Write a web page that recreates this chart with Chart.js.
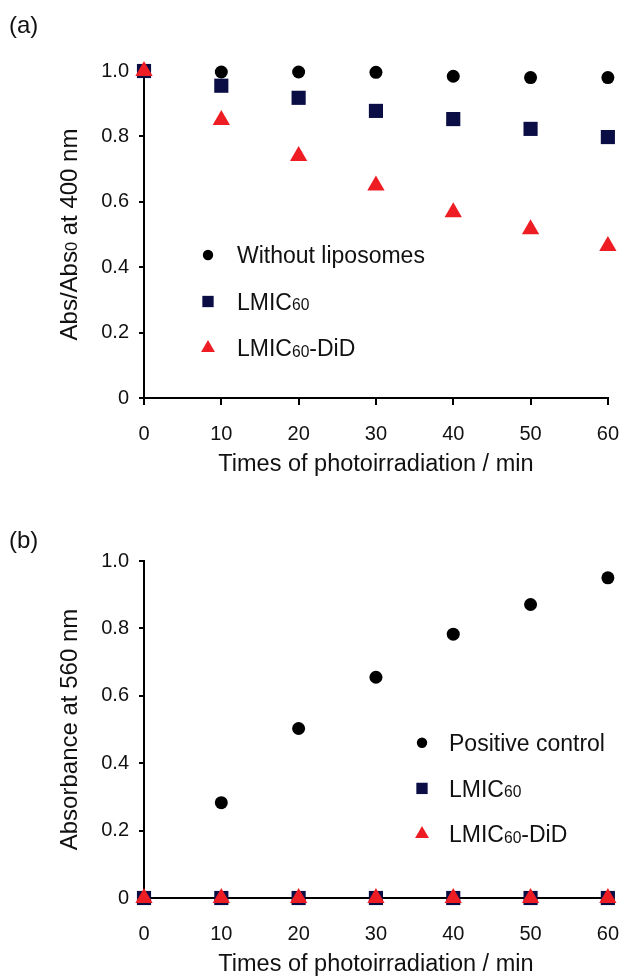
<!DOCTYPE html>
<html>
<head>
<meta charset="utf-8">
<title>Photoirradiation</title>
<script src="https://cdn.jsdelivr.net/npm/chart.js@4.4.1/dist/chart.umd.min.js"></script>
<style>
  html, body { margin: 0; padding: 0; background: #fff; overflow: hidden; width: 636px; height: 977px; }
  .panel { position: absolute; left: 0; width: 636px; }
  .tag { position: absolute; left: 9px; font: 24px "Liberation Sans", Arial, sans-serif; line-height: 24px; color: #111; }
</style>
</head>
<body>
<div class="panel" style="top:0"><canvas id="chartA" width="636" height="490"></canvas></div>
<div class="panel" style="top:490px"><canvas id="chartB" width="636" height="500"></canvas></div>
<div class="tag" style="top:13px">(a)</div>
<div class="tag" style="top:528px">(b)</div>
<script>
const times = [0, 10, 20, 30, 40, 50, 60];
const xTicks = [0, 10, 20, 30, 40, 50, 60];
const yTicks = [0, 0.2, 0.4, 0.6, 0.8, 1.0];

// (a) Abs/Abs0 at 400 nm
const withoutLiposomes = [1.0, 0.997, 0.997, 0.996, 0.984, 0.980, 0.980];
const lmicA = [1.0, 0.955, 0.918, 0.878, 0.853, 0.823, 0.798];
const lmicDidA = [1.0, 0.850, 0.740, 0.650, 0.568, 0.516, 0.465];

// (b) absorbance at 560 nm
const positiveControl = [0, 0.283, 0.503, 0.655, 0.783, 0.871, 0.950];
const lmicB = [0, 0, 0, 0, 0, 0, 0];
const lmicDidB = [0, 0, 0, 0, 0, 0, 0];

const FONT = '"Liberation Sans", Arial, sans-serif';
const TEXT = '#111';
const SUB = '\u2080\u2081\u2082\u2083\u2084\u2085\u2086\u2087\u2088\u2089';

// split text into normal / subscript runs (subscript digits drawn small)
function runsOf(text) {
  const runs = [];
  for (const ch of text) {
    const k = SUB.indexOf(ch);
    const sub = k >= 0;
    const c = sub ? String(k) : ch;
    const last = runs[runs.length - 1];
    if (last && last.sub === sub) last.s += c; else runs.push({ sub: sub, s: c });
  }
  return runs;
}

function richWidth(ctx, text, size) {
  let w = 0;
  runsOf(text).forEach(r => {
    ctx.font = (r.sub ? size * 0.68 : size) + 'px ' + FONT;
    w += ctx.measureText(r.s).width;
  });
  return w;
}

// y = middle of the capitals
function drawRich(ctx, text, x, y, size) {
  const base = y + size * 0.358;
  let cx = x;
  ctx.textAlign = 'left';
  ctx.textBaseline = 'alphabetic';
  ctx.fillStyle = TEXT;
  runsOf(text).forEach(r => {
    ctx.font = (r.sub ? size * 0.68 : size) + 'px ' + FONT;
    ctx.fillText(r.s, cx, base + (r.sub ? size * 0.03 : 0));
    cx += ctx.measureText(r.s).width;
  });
}

// legend drawn inside the plot
const insideLegend = {
  id: 'insideLegend',
  afterDatasetsDraw(chart, args, opts) {
    const ctx = chart.ctx;
    ctx.save();
    chart.data.datasets.forEach((ds, i) => {
      const y = opts.y + i * opts.gap;
      ctx.fillStyle = ds.backgroundColor;
      Chart.helpers.drawPoint(ctx, { pointStyle: ds.pointStyle, radius: opts.radius[i], rotation: 0, borderWidth: 0 }, opts.x, y);
      drawRich(ctx, ds.label, opts.textX, y, opts.size);
    });
    ctx.restore();
  }
};

// rotated y title with a subscript
const yTitle = {
  id: 'yTitle',
  afterDraw(chart, args, opts) {
    const ctx = chart.ctx;
    const a = chart.chartArea;
    ctx.save();
    ctx.translate(opts.x, (a.top + a.bottom) / 2);
    ctx.rotate(-Math.PI / 2);
    const w = richWidth(ctx, opts.text, opts.size);
    drawRich(ctx, opts.text, -w / 2, 0, opts.size);
    ctx.restore();
  }
};

function pts(values) {
  return values.map((v, i) => ({ x: times[i], y: v }));
}

function series(label, values, style, color, radius, order) {
  return {
    label: label,
    data: pts(values),
    pointStyle: style,
    pointRadius: radius,
    pointBorderWidth: 0,
    backgroundColor: color,
    borderColor: color,
    showLine: false,
    clip: false,
    order: order
  };
}

function makeChart(id, datasets, topPad, titleText, legendOpts) {
  return new Chart(document.getElementById(id), {
    type: 'scatter',
    data: { datasets: datasets },
    plugins: [insideLegend, yTitle],
    options: {
      responsive: false,
      animation: false,
      events: [],
      layout: { padding: { top: topPad, right: 14, left: 0, bottom: 0 } },
      plugins: {
        legend: { display: false },
        tooltip: { enabled: false },
        insideLegend: legendOpts,
        yTitle: { text: titleText, x: 68, size: 24 }
      },
      scales: {
        x: {
          type: 'linear',
          min: 0,
          max: 60,
          afterBuildTicks: s => { s.ticks = xTicks.map(v => ({ value: v })); },
          afterFit: s => { s.height = 92; },
          grid: { drawOnChartArea: false, drawTicks: true, tickLength: 7, color: '#000', lineWidth: 2 },
          border: { color: '#000', width: 2 },
          ticks: { color: TEXT, font: { family: FONT, size: 20 }, padding: 17, maxRotation: 0 },
          title: {
            display: true,
            text: 'Times of photoirradiation / min',
            color: TEXT,
            font: { family: FONT, size: 23.5 },
            padding: { top: 0, bottom: 11 }
          }
        },
        y: {
          min: 0,
          max: 1,
          afterBuildTicks: s => { s.ticks = yTicks.map(v => ({ value: v })); },
          afterFit: s => { s.width = 144; },
          grid: { drawOnChartArea: false, drawTicks: true, tickLength: 5, color: '#000', lineWidth: 2 },
          border: { color: '#000', width: 2 },
          ticks: {
            color: TEXT,
            font: { family: FONT, size: 20 },
            padding: 10,
            callback: v => v === 0 ? '0' : v.toFixed(1)
          }
        }
      }
    }
  });
}

const NAVY = '#0b0e44';
const RED = '#ee1d24';
const BLACK = '#000000';

makeChart('chartA', [
  series('Without liposomes', withoutLiposomes, 'circle', BLACK, 6.5, 3),
  series('LMIC\u2086\u2080', lmicA, 'rect', NAVY, 10, 2),
  series('LMIC\u2086\u2080-DiD', lmicDidA, 'triangle', RED, 10, 1)
], 71, 'Abs/Abs\u2080 at 400 nm',
  { x: 208, textX: 237, y: 255, gap: 46.5, size: 23, radius: [5.2, 8, 8] });

makeChart('chartB', [
  series('Positive control', positiveControl, 'circle', BLACK, 6.5, 3),
  series('LMIC\u2086\u2080', lmicB, 'rect', NAVY, 10, 2),
  series('LMIC\u2086\u2080-DiD', lmicDidB, 'triangle', RED, 10, 1)
], 71, 'Absorbance at 560 nm',
  { x: 422, textX: 449, y: 252.7, gap: 45.7, size: 23, radius: [5.2, 8, 8] });
</script>
</body>
</html>
